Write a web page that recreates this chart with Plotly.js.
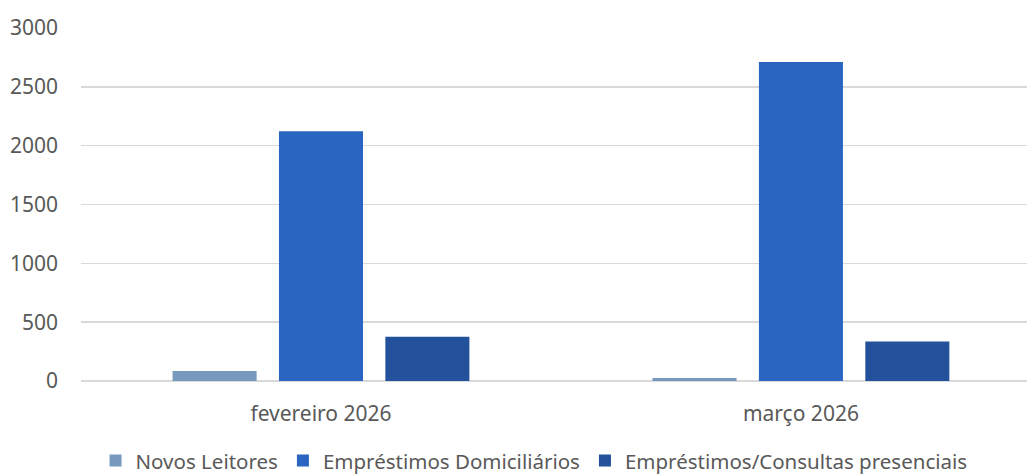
<!DOCTYPE html>
<html>
<head>
<meta charset="utf-8">
<script src="https://cdn.plot.ly/plotly-3.0.1.min.js"></script>
<style>html,body{margin:0;padding:0;background:#fff;}#chart{width:1027px;height:476px;}</style>
</head>
<body>
<div id="chart"></div>
<script>
const categories = ["fevereiro 2026", "março 2026"];
const seriesNames = ["Novos Leitores", "Empréstimos Domiciliários", "Empréstimos/Consultas presenciais"];
const novosLeitores = [85, 26];
const emprestimosDomiciliarios = [2122, 2712];
const emprestimosPresenciais = [377, 336];
const yTicks = [0, 500, 1000, 1500, 2000, 2500, 3000];
const colors = ["#7799BE", "#2965C1", "#23519C"];

const values = [novosLeitores, emprestimosDomiciliarios, emprestimosPresenciais];
const traces = values.map((v, i) => ({
  type: "bar",
  name: seriesNames[i],
  x: categories,
  y: v,
  marker: {color: colors[i], line: {width: 0}},
  hoverinfo: "x+y+name"
}));

const font = {family: "Noto Sans, sans-serif", size: 21, color: "#595959"};
const legendFont = {family: "Noto Sans, sans-serif", size: 20.5, color: "#595959"};
const layout = {
  width: 1027, height: 476,
  margin: {l: 81, r: 0, t: 28, b: 95},
  paper_bgcolor: "#fff", plot_bgcolor: "#fff",
  font: font,
  barmode: "group",
  bargap: 0.335,
  bargroupgap: 0.21,
  showlegend: true,
  legend: {orientation: "h", x: 0.52, xref: "container", xanchor: "center",
           y: 0.032, yref: "container", yanchor: "middle",
           font: legendFont, itemwidth: 30, tracegroupgap: 0},
  xaxis: {type: "category", range: [-0.5, 1.471], showline: false, ticks: "", showgrid: false,
          tickfont: font, zeroline: false, ticklabelstandoff: 18},
  yaxis: {range: [0, 3000], tickvals: yTicks, ticktext: yTicks.map(String),
          showgrid: true, gridcolor: "#D9D9D9", gridwidth: 1.5,
          zeroline: true, zerolinecolor: "#D9D9D9", zerolinewidth: 1.5,
          showline: false, ticks: "", tickfont: font, ticklabelstandoff: 22}
};
Plotly.newPlot("chart", traces, layout, {displayModeBar: false, staticPlot: true});
</script>
</body>
</html>
